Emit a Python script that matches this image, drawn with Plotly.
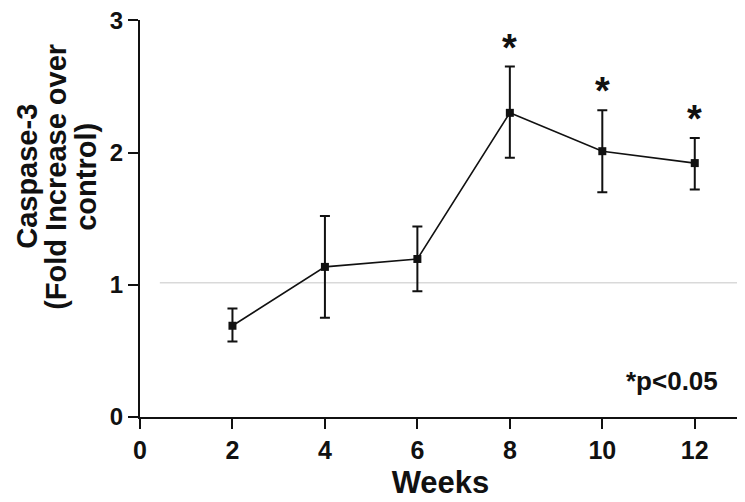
import plotly.graph_objects as go

weeks = [2, 4, 6, 8, 10, 12]
fold_change = [0.69, 1.135, 1.195, 2.30, 2.01, 1.92]
err_upper = [0.82, 1.52, 1.44, 2.65, 2.32, 2.11]
err_lower = [0.57, 0.75, 0.95, 1.96, 1.70, 1.72]
sig_weeks = [8, 10, 12]
control_level = 1.015
x_ticks = [0, 2, 4, 6, 8, 10, 12]
y_ticks = [0, 1, 2, 3]
y_title_lines = ["Caspase-3", "(Fold Increase over", "control)"]

plus = [u - v for u, v in zip(err_upper, fold_change)]
minus = [v - l for v, l in zip(fold_change, err_lower)]

FONT = "Liberation Sans, Arial, sans-serif"
INK = "#111111"

fig = go.Figure()
fig.add_trace(go.Scatter(
    x=weeks, y=fold_change, mode="lines+markers",
    line=dict(color=INK, width=1.6),
    marker=dict(symbol="square", size=8, color=INK),
    error_y=dict(type="data", symmetric=False, array=plus, arrayminus=minus,
                 color=INK, thickness=2, width=5),
    showlegend=False,
))

# control reference line
fig.add_shape(type="line", xref="paper", yref="y", x0=0.033, x1=1.018,
              y0=control_level, y1=control_level,
              line=dict(color="#d9d9d9", width=1.5), layer="below")

# significance asterisks
for w in sig_weeks:
    i = weeks.index(w)
    fig.add_annotation(x=w, y=err_upper[i], text="<b>*</b>", showarrow=False,
                       xanchor="center", yanchor="bottom", yshift=-4,
                       font=dict(family=FONT, size=38, color=INK))

fig.add_annotation(xref="paper", yref="paper", x=0.965, y=0.09, text="<b>*p<0.05</b>",
                   showarrow=False, xanchor="right", yanchor="middle",
                   font=dict(family=FONT, size=26, color=INK))

# y-axis title lines
for txt, px in zip(y_title_lines, [19, 48, 78]):
    fig.add_annotation(xref="paper", yref="paper", x=(px - 132) / 601, y=0.605,
                       text="<b>" + txt + "</b>", textangle=-90, showarrow=False,
                       xanchor="center", yanchor="middle",
                       font=dict(family=FONT, size=29, color=INK))

fig.update_layout(
    width=745, height=502,
    margin=dict(l=132, r=12, t=12, b=93, autoexpand=False),
    paper_bgcolor="white", plot_bgcolor="white",
    font=dict(family=FONT, color=INK),
    xaxis=dict(range=[0, 13], tickvals=x_ticks, ticktext=[f"<b>{t}</b>" for t in x_ticks],
               showline=True, linecolor=INK, linewidth=2, automargin=False,
               ticks="outside", ticklen=10, tickwidth=2, tickcolor=INK,
               showgrid=False, zeroline=False, ticklabeloverflow="allow",
               tickfont=dict(family=FONT, size=25, color=INK),
               title=dict(text="<b>Weeks</b>", font=dict(family=FONT, size=31, color=INK),
                          standoff=8)),
    yaxis=dict(range=[0, 3.002], tickvals=y_ticks, ticktext=[f"<b>{t}</b>" for t in y_ticks],
               showline=True, linecolor=INK, linewidth=2, automargin=False,
               ticks="outside", ticklen=10, tickwidth=2, tickcolor=INK,
               showgrid=False, zeroline=False, ticklabeloverflow="allow",
               tickfont=dict(family=FONT, size=24, color=INK)),
)

fig.write_html("out.html")
